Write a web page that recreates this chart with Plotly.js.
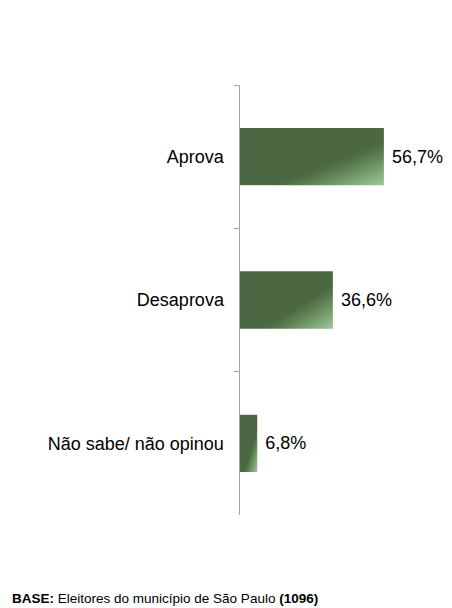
<!DOCTYPE html>
<html>
<head>
<meta charset="utf-8">
<script src="https://cdn.plot.ly/plotly-3.0.1.min.js"></script>
<style>html,body{margin:0;padding:0;background:#fff;}#chart{width:452px;height:608px;}</style>
</head>
<body>
<div id="chart"></div>
<script>
const categories = ["Aprova", "Desaprova", "Não sabe/ não opinou"];
const values = [56.7, 36.6, 6.8];
const valueLabels = ["56,7%", "36,6%", "6,8%"];

const trace = {
  type: "bar",
  orientation: "h",
  y: categories,
  x: values,
  text: valueLabels.map(t => " " + t),
  textposition: "outside",
  cliponaxis: false,
  textfont: {family: "Liberation Sans, Arial, sans-serif", size: 18, color: "#000"},
  marker: {color: "#4b6842", line: {width: 0}},
  hoverinfo: "none"
};

const layout = {
  width: 452, height: 608,
  margin: {l: 240, r: 9, t: 85, b: 93},
  paper_bgcolor: "#fff", plot_bgcolor: "#fff",
  showlegend: false,
  bargap: 0.6,
  xaxis: {range: [0, 80], visible: false, fixedrange: true},
  yaxis: {
    type: "category",
    range: [2.5, -0.5],
    showline: true, linecolor: "#a6a6a6", linewidth: 1.5,
    ticks: "outside", tickson: "boundaries", ticklen: 5, tickcolor: "#a6a6a6", tickwidth: 1,
    ticklabelstandoff: 11,
    showgrid: false, zeroline: false,
    tickfont: {family: "Liberation Sans, Arial, sans-serif", size: 18, color: "#000"}
  },
  annotations: [{
    xref: "paper", yref: "paper",
    x: -230/203, y: -83/430,
    xanchor: "left", yanchor: "middle",
    text: "<b>BASE:</b> Eleitores do município de São Paulo <b>(1096)</b>",
    showarrow: false,
    font: {family: "Liberation Sans, Arial, sans-serif", size: 13.5, color: "#000"}
  }]
};

Plotly.newPlot("chart", [trace], layout, {displayModeBar: false, staticPlot: true}).then(gd => {
  const svg = gd.querySelector("svg.main-svg");
  const ns = "http://www.w3.org/2000/svg";
  const defs = document.createElementNS(ns, "defs");
  const lg = document.createElementNS(ns, "linearGradient");
  lg.setAttribute("id", "barGrad");
  lg.setAttribute("x1", "0"); lg.setAttribute("y1", "0");
  lg.setAttribute("x2", "1"); lg.setAttribute("y2", "1");
  [["0", "#4b6842"], ["0.62", "#4b6842"], ["0.72", "#5d7f53"], ["1", "#9cc997"]].forEach(([o, c]) => {
    const s = document.createElementNS(ns, "stop");
    s.setAttribute("offset", o); s.setAttribute("stop-color", c);
    lg.appendChild(s);
  });
  defs.appendChild(lg);
  svg.insertBefore(defs, svg.firstChild);
  gd.querySelectorAll(".bars .point path").forEach(p => { p.style.fill = "url(#barGrad)"; });
});
</script>
</body>
</html>
